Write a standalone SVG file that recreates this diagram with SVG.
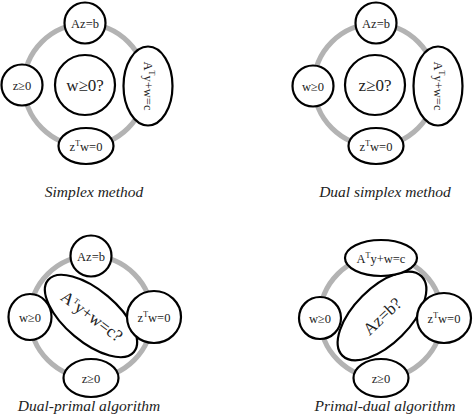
<svg xmlns="http://www.w3.org/2000/svg" width="474" height="418" viewBox="0 0 474 418">
<style>
.ring{fill:none;stroke:#b3b3b3;stroke-width:5}
.nd{fill:#fff;stroke:#000;stroke-width:2.2}
.t{font-family:"Liberation Serif","Times New Roman",serif;font-size:12.5px;fill:#222;text-anchor:middle}
.big{font-size:17px}
.cap{font-family:"Liberation Serif","Times New Roman",serif;font-style:italic;font-size:15.5px;fill:#222;text-anchor:middle}
.sup{font-size:8px}
</style>
<rect width="474" height="418" fill="#fff"/>
<g id="connectors">
<circle class="ring" cx="85" cy="85" r="61"/>
<circle class="ring" cx="375" cy="85" r="61"/>
<circle class="ring" cx="91" cy="317" r="61"/>
<circle class="ring" cx="381" cy="317" r="61"/>
</g>
<!-- Panel 1: Simplex method -->
<g id="p1-center"><circle class="nd" cx="85" cy="85" r="30"/><text class="t big" x="85" y="91">w≥0?</text></g>
<g id="p1-top"><circle class="nd" cx="85" cy="23" r="20.5"/><text class="t" x="85" y="27.5">Az=b</text></g>
<g id="p1-left"><circle class="nd" cx="22" cy="85" r="20.5"/><text class="t" x="22" y="89.5">z≥0</text></g>
<g id="p1-right"><ellipse class="nd" cx="148" cy="86" rx="24.5" ry="39.5"/><text class="t" transform="translate(148,86) rotate(90)" x="0" y="4.5">A<tspan class="sup" dy="-5">T</tspan><tspan dy="5">y+w=c</tspan></text></g>
<g id="p1-bottom"><ellipse class="nd" cx="86" cy="146" rx="27.5" ry="18"/><text class="t" x="86" y="150.5">z<tspan class="sup" dy="-5">T</tspan><tspan dy="5">w=0</tspan></text></g>
<text id="p1-caption" class="cap" x="94" y="197">Simplex method</text>
<!-- Panel 2: Dual simplex method -->
<g id="p2-center"><circle class="nd" cx="375" cy="85" r="30"/><text class="t big" x="375" y="91">z≥0?</text></g>
<g id="p2-top"><circle class="nd" cx="376" cy="23" r="20.5"/><text class="t" x="376" y="27.5">Az=b</text></g>
<g id="p2-left"><circle class="nd" cx="313" cy="86" r="20.5"/><text class="t" x="313" y="90.5">w≥0</text></g>
<g id="p2-right"><ellipse class="nd" cx="438" cy="86" rx="24.5" ry="39.5"/><text class="t" transform="translate(438,86) rotate(90)" x="0" y="4.5">A<tspan class="sup" dy="-5">T</tspan><tspan dy="5">y+w=c</tspan></text></g>
<g id="p2-bottom"><ellipse class="nd" cx="376" cy="146" rx="27.5" ry="18"/><text class="t" x="376" y="150.5">z<tspan class="sup" dy="-5">T</tspan><tspan dy="5">w=0</tspan></text></g>
<text id="p2-caption" class="cap" x="385" y="197">Dual simplex method</text>
<!-- Panel 3: Dual-primal algorithm -->
<g id="p3-center"><ellipse class="nd" cx="91" cy="316" rx="56" ry="26" transform="rotate(40 91 316)"/><text class="t big" transform="translate(92,316) rotate(37)" x="0" y="6">A<tspan class="sup" dy="-6" font-size="10">T</tspan><tspan dy="6">y+w=c?</tspan></text></g>
<g id="p3-top"><circle class="nd" cx="91" cy="256" r="20.5"/><text class="t" x="91" y="260.5">Az=b</text></g>
<g id="p3-left"><ellipse class="nd" cx="30" cy="317" rx="21.5" ry="23"/><text class="t" x="30" y="321.5">w≥0</text></g>
<g id="p3-right"><ellipse class="nd" cx="154" cy="317" rx="27" ry="26"/><text class="t" x="154" y="321.5">z<tspan class="sup" dy="-5">T</tspan><tspan dy="5">w=0</tspan></text></g>
<g id="p3-bottom"><ellipse class="nd" cx="91" cy="378" rx="27.5" ry="19"/><text class="t" x="91" y="382.5">z≥0</text></g>
<text id="p3-caption" class="cap" x="89" y="411">Dual-primal algorithm</text>
<!-- Panel 4: Primal-dual algorithm -->
<g id="p4-center"><ellipse class="nd" cx="382" cy="316" rx="56" ry="28" transform="rotate(-45 382 316)"/><text class="t big" transform="translate(382,316) rotate(-43)" x="0" y="6">Az=b?</text></g>
<g id="p4-top"><ellipse class="nd" cx="381" cy="258" rx="36" ry="18"/><text class="t" x="381" y="262.5">A<tspan class="sup" dy="-5">T</tspan><tspan dy="5">y+w=c</tspan></text></g>
<g id="p4-left"><circle class="nd" cx="320" cy="318" r="21"/><text class="t" x="320" y="322.5">w≥0</text></g>
<g id="p4-right"><ellipse class="nd" cx="444" cy="318" rx="27" ry="25"/><text class="t" x="444" y="322.5">z<tspan class="sup" dy="-5">T</tspan><tspan dy="5">w=0</tspan></text></g>
<g id="p4-bottom"><ellipse class="nd" cx="381" cy="378" rx="27.5" ry="19"/><text class="t" x="381" y="382.5">z≥0</text></g>
<text id="p4-caption" class="cap" x="385" y="411">Primal-dual algorithm</text>
</svg>
